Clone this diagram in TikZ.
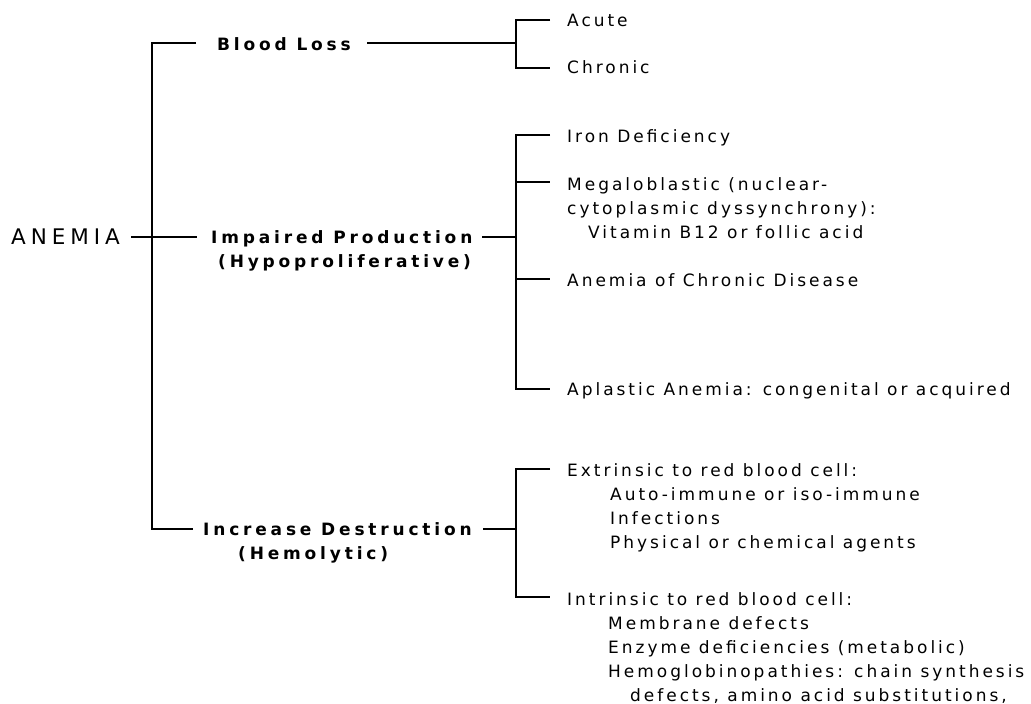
\documentclass[tikz,border=0pt]{standalone}
\usepackage{fontspec}
\newfontfamily\regf{DejaVu Sans}[LetterSpace=17.5]
\newfontfamily\bldf{DejaVu Sans}[LetterSpace=22.5,UprightFont=* Bold]
\newfontfamily\bigf{DejaVu Sans}[LetterSpace=23]
\tikzset{
  leaf/.style={anchor=base west, inner sep=0pt, align=left, font=\regf\fontsize{17}{24}\selectfont},
  head/.style={anchor=base west, inner sep=0pt, align=left, font=\bldf\fontsize{17}{24}\selectfont},
  root/.style={anchor=base west, inner sep=0pt, font=\bigf\fontsize{21.5}{24}\selectfont},
  ln/.style={line width=1.2pt, black}
}
\begin{document}
\begin{tikzpicture}[x=1pt,y=-1pt]
\useasboundingbox (0,0) rectangle (1031,704);
% texts (multi-line nodes are placed by the baseline of their last line)
\node[root] (anemia) at (11,244) {ANEMIA};
\node[head] (blood) at (217,50) {Blood Loss};
\node[head] (impaired) at (211,267) {Impaired Production\\\hspace*{7pt}(Hypoproliferative)};
\node[head] (destr) at (203,559) {Increase Destruction\\\hspace*{35pt}(Hemolytic)};
\node[leaf] (acute) at (567,26) {Acute};
\node[leaf] (chronic) at (567,73) {Chronic};
\node[leaf] (iron) at (567,142) {Iron Deficiency};
\node[leaf] (mega) at (567,238) {Megaloblastic (nuclear-\\cytoplasmic dyssynchrony):\\\hspace*{21pt}Vitamin B12 or follic acid};
\node[leaf] (acd) at (567,286) {Anemia of Chronic Disease};
\node[leaf] (aplastic) at (567,395) {Aplastic Anemia: congenital or acquired};
\node[leaf] (extr) at (567,548) {Extrinsic to red blood cell:\\\hspace*{43pt}Auto-immune or iso-immune\\\hspace*{43pt}Infections\\\hspace*{43pt}Physical or chemical agents};
\node[leaf] (intr) at (567,701) {Intrinsic to red blood cell:\\\hspace*{41pt}Membrane defects\\\hspace*{41pt}Enzyme deficiencies (metabolic)\\\hspace*{41pt}Hemoglobinopathies: chain synthesis\\\hspace*{63pt}defects, amino acid substitutions,};
% coordinates
\coordinate (a0) at (131,237); \coordinate (a1) at (197,237);
\coordinate (tTop) at (152,43); \coordinate (tBot) at (152,529);
\coordinate (bL) at (196,43); \coordinate (bR) at (367,43); \coordinate (bJ) at (516,43);
\coordinate (dL) at (193,529); \coordinate (dR) at (483,529); \coordinate (dJ) at (516,529);
\coordinate (iR) at (482,237); \coordinate (iJ) at (516,237);
\coordinate (k1a) at (516,20); \coordinate (k1b) at (516,68);
\coordinate (e1a) at (550,20); \coordinate (e1b) at (550,68);
\coordinate (k2a) at (516,135); \coordinate (k2b) at (516,182); \coordinate (k2c) at (516,279); \coordinate (k2d) at (516,389);
\coordinate (e2a) at (550,135); \coordinate (e2b) at (550,182); \coordinate (e2c) at (550,279); \coordinate (e2d) at (550,389);
\coordinate (k3a) at (516,469); \coordinate (k3b) at (516,597);
\coordinate (e3a) at (550,469); \coordinate (e3b) at (550,597);
% connectors
\draw[ln] (a0) -- (a1);
\draw[ln] (bL) -- (tTop) -- (tBot) -- (dL);
\draw[ln] (bR) -- (bJ);
\draw[ln] (iR) -- (iJ);
\draw[ln] (dR) -- (dJ);
\draw[ln] (e1a) -- (k1a) -- (k1b) -- (e1b);
\draw[ln] (e2a) -- (k2a) -- (k2d) -- (e2d);
\draw[ln] (k2b) -- (e2b);
\draw[ln] (k2c) -- (e2c);
\draw[ln] (e3a) -- (k3a) -- (k3b) -- (e3b);
\end{tikzpicture}
\end{document}
